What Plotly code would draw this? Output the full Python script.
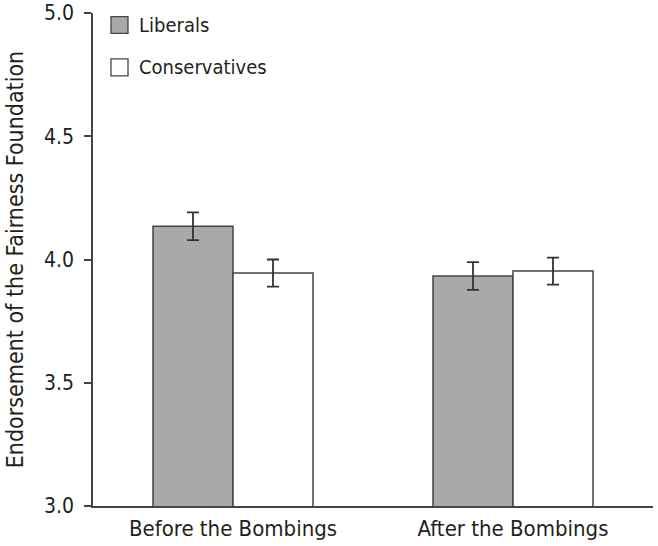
import plotly.graph_objects as go

categories = ["Before the Bombings", "After the Bombings"]
series_names = ["Liberals", "Conservatives"]
liberals = [4.135, 3.933]
liberals_err = [0.056, 0.056]
conservatives = [3.945, 3.953]
conservatives_err = [0.055, 0.055]
y_ticks = [3.0, 3.5, 4.0, 4.5, 5.0]
y_title = "Endorsement of the Fairness Foundation"

FONT = "DejaVu Sans Condensed, Liberation Sans Narrow, Arial Narrow, sans-serif"
TXT = "#231f20"
LINE = "#444444"
fills = ["#a9a9a9", "#ffffff"]

fig = go.Figure()
for name, vals, errs, fill in [
    (series_names[0], liberals, liberals_err, fills[0]),
    (series_names[1], conservatives, conservatives_err, fills[1]),
]:
    fig.add_trace(go.Bar(
        x=categories, y=vals, name=name,
        marker=dict(color=fill, line=dict(color=LINE, width=1.5)),
        error_y=dict(type="data", array=errs, color="#333333", thickness=1.8, width=6),
        showlegend=False,
    ))

# manual legend (squares + text) in paper coordinates
leg = [(0.9925, 0.9588, fills[0], series_names[0]), (0.9069, 0.8724, fills[1], series_names[1])]
for y0, y1, fill, name in leg:
    fig.add_shape(type="rect", xref="paper", yref="paper", x0=0.0321, x1=0.0625, y0=y1, y1=y0,
                  fillcolor=fill, line=dict(color=LINE, width=1.3))
    fig.add_annotation(xref="paper", yref="paper", x=0.0786, y=(y0 + y1) / 2, text=name,
                       showarrow=False, xanchor="left", yanchor="middle",
                       font=dict(family=FONT, size=20, color=TXT))

fig.update_layout(
    width=658, height=546,
    margin=dict(l=93, r=5, t=13, b=40),
    paper_bgcolor="white", plot_bgcolor="white",
    barmode="group", bargap=0.4286, bargroupgap=0,
    font=dict(family=FONT, size=21, color=TXT),
    xaxis=dict(
        type="category", range=[-0.5, 1.5], automargin=False,
        showline=True, linecolor=LINE, linewidth=1.5,
        ticks="", showgrid=False, zeroline=False,
        tickfont=dict(family=FONT, size=22, color=TXT),
        ticklabelstandoff=2,
    ),
    yaxis=dict(
        range=[3, 5], tickvals=y_ticks, ticktext=[f"{v:.1f}" for v in y_ticks],
        automargin=False, ticklabeloverflow="allow",
        showline=True, linecolor=LINE, linewidth=1.5,
        ticks="outside", ticklen=7, tickcolor=LINE, tickwidth=1.5,
        showgrid=False, zeroline=False,
        tickfont=dict(family=FONT, size=21, color=TXT),
        ticklabelstandoff=6,
        title=dict(text=y_title, font=dict(family=FONT, size=23, color=TXT), standoff=14),
    ),
)

# remove the default 8px page margin so the figure fills the window exactly
fig.write_html("out.html", config={"displayModeBar": False},
               post_script="document.body.style.margin='0';")
